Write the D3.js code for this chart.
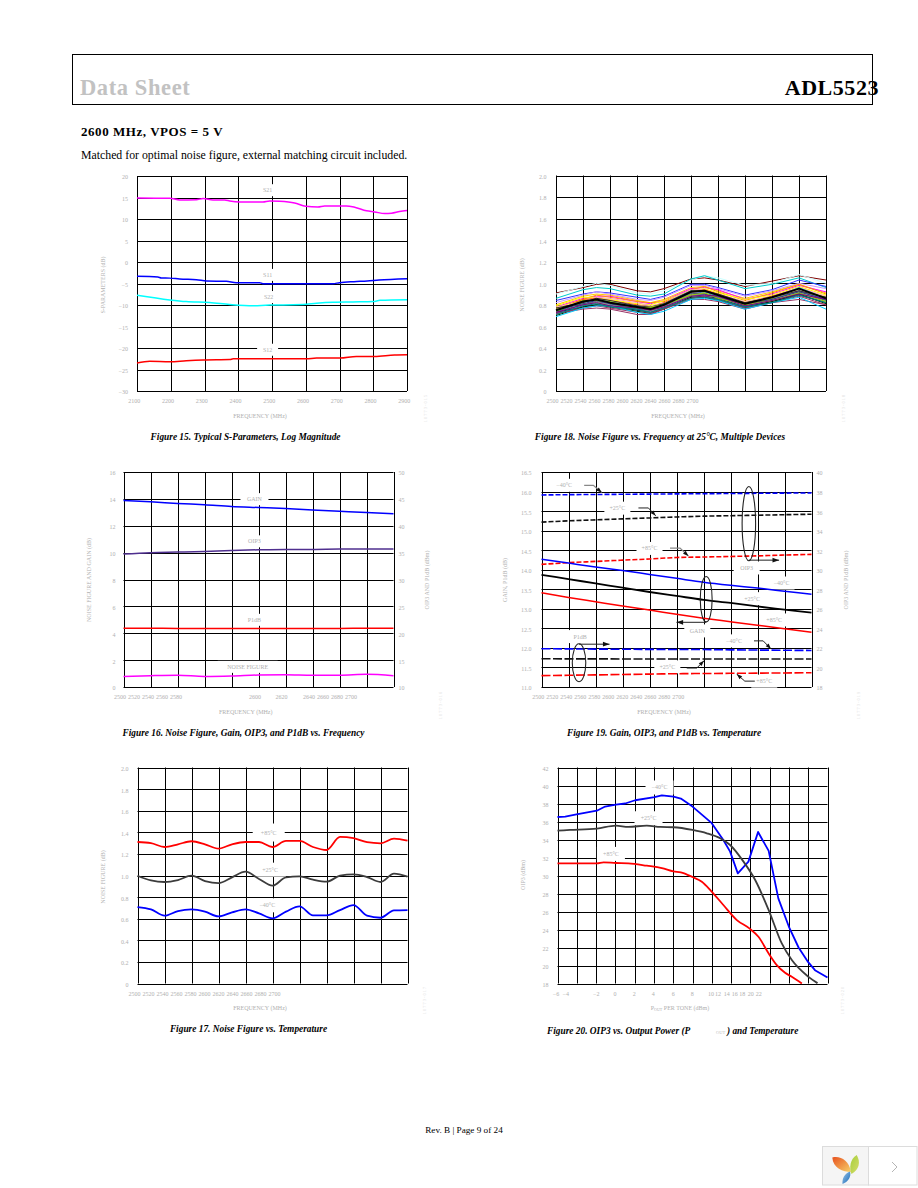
<!DOCTYPE html>
<html><head><meta charset="utf-8">
<style>html,body{margin:0;padding:0;background:#fff}svg{display:block}</style>
<script src="https://cdnjs.cloudflare.com/ajax/libs/d3/7.8.5/d3.min.js"></script>
</head><body><svg id="page" width="918" height="1188"></svg>
<script>
// ---- Figure 15 data ----
const s21F=[2100,2197,2226,2276,2296,2325,2360,2375,2404,2473,2493,2523,2567,2600,2636,2656,2720,2745,2780,2804,2834,2854,2878,2900];
const s21V=[14.9,14.82,14.44,14.5,14.75,14.44,14.44,14.2,13.97,13.97,14.2,14.13,13.74,12.97,12.8,13.04,13.04,12.74,11.9,11.65,11.27,11.34,11.73,11.96];
const s11F=[2100,2162,2172,2197,2226,2276,2306,2365,2394,2463,2473,2680,2700,2743,2782,2817,2900];
const s11V=[-3.34,-3.49,-3.73,-3.75,-3.96,-4.1,-4.42,-4.5,-4.81,-4.81,-5.04,-5.04,-4.81,-4.57,-4.42,-4.2,-3.88];
const s22F=[2100,2197,2246,2315,2375,2444,2493,2533,2592,2632,2681,2740,2800,2820,2900];
const s22V=[-7.74,-8.82,-9.21,-9.44,-9.9,-10.2,-9.98,-9.98,-9.9,-9.6,-9.37,-9.29,-9.2,-8.9,-8.75];
const s12F=[2100,2138,2197,2246,2296,2375,2385,2602,2632,2701,2750,2804,2863,2900];
const s12V=[-23.5,-23.1,-23.2,-22.97,-22.8,-22.7,-22.5,-22.5,-22.35,-22.35,-21.96,-21.96,-21.6,-21.55];

// ---- Figure 18 data: noise figure of many devices ----
const devF=[2500,2520,2530,2540,2560,2570,2580,2600,2610,2620,2640,2660,2680,2700];
const devices=[
[.91,.96,.99,.99,.93,.92,.95,1.04,1.05,1.03,.97,1.02,1.07,1.03],
[.90,.97,1.0,.98,.91,.90,.93,1.03,1.07,1.05,.98,1.0,1.08,1.0],
[.86,.94,.96,.95,.89,.88,.90,1.04,1.07,1.03,.95,.99,1.05,.96],
[.84,.90,.92,.91,.87,.85,.88,.99,.99,.96,.89,.94,1.03,.97],
[.82,.89,.92,.90,.85,.84,.87,.98,.98,.95,.88,.93,1.0,.95],
[.80,.88,.90,.89,.84,.82,.85,.96,.97,.93,.86,.92,.99,.91],
[.78,.86,.88,.88,.83,.81,.84,.95,.96,.94,.85,.90,.98,.92],
[.77,.85,.89,.87,.83,.82,.83,.94,.97,.92,.84,.91,.99,.90],
[.79,.87,.87,.85,.81,.80,.84,.93,.95,.91,.85,.89,.97,.89],
[.76,.84,.87,.86,.82,.79,.82,.94,.94,.90,.83,.88,.96,.88],
[.75,.85,.86,.84,.80,.78,.82,.92,.94,.90,.82,.88,.95,.87],
[.78,.83,.85,.83,.79,.79,.81,.91,.93,.89,.83,.87,.94,.88],
[.74,.82,.85,.83,.78,.77,.81,.93,.92,.88,.80,.86,.96,.86],
[.73,.83,.84,.82,.79,.76,.80,.90,.92,.89,.81,.85,.93,.85],
[.76,.81,.83,.80,.77,.77,.79,.90,.91,.87,.80,.86,.92,.87],
[.72,.80,.83,.81,.76,.75,.79,.89,.90,.87,.79,.85,.93,.84],
[.74,.80,.81,.80,.76,.74,.78,.88,.90,.86,.78,.84,.91,.84],
[.71,.79,.82,.80,.75,.74,.78,.89,.89,.85,.79,.83,.90,.83],
[.73,.78,.80,.79,.75,.73,.77,.87,.88,.86,.78,.83,.89,.82],
[.70,.78,.80,.78,.74,.72,.76,.87,.87,.84,.77,.83,.90,.81],
[.72,.77,.79,.77,.73,.72,.77,.86,.88,.85,.77,.82,.88,.80],
[.72,.76,.77,.76,.71,.71,.76,.85,.85,.83,.76,.82,.85,.80],
[.69,.77,.79,.79,.73,.71,.74,.85,.86,.84,.76,.82,.87,.76],
[.75,.81,.84,.81,.78,.75,.80,.91,.90,.88,.80,.85,.92,.85],
[.77,.82,.86,.84,.79,.78,.81,.93,.93,.90,.82,.87,.93,.87],
[.74,.84,.84,.83,.77,.78,.80,.89,.91,.86,.80,.84,.91,.83],
[.73,.80,.82,.79,.77,.75,.78,.88,.89,.88,.79,.84,.90,.85],
[.71,.79,.81,.78,.76,.73,.77,.86,.87,.85,.78,.82,.89,.82],
[.75,.83,.85,.82,.78,.76,.80,.92,.93,.89,.81,.87,.95,.86]
];
const deviceColors=['#800000','#ccffff','#00cccc','#3333ff','#cc99ff','#ffcc00','#ff00ff','#ff9900','#ffff00','#ff99cc','#ff6600','#ffcc99','#33cccc','#3366ff','#99cc00','#666699','#339966','#969696','#003366','#003300','#993366','#993366','#00ccff','#333399','#333333','#99cc00','#800080','#008080','#000000'];

// ---- Figure 16 data ----
const freq=[2500,2520,2540,2560,2580,2600,2620,2640,2660,2680,2700];
const gainV=[13.87,13.78,13.66,13.56,13.44,13.36,13.28,13.18,13.08,12.98,12.9];
const oip3V=[34.73,34.98,35.1,35.23,35.41,35.53,35.6,35.6,35.66,35.66,35.66];
const p1dbV=[20.95,20.94,20.9,20.9,20.9,20.88,20.9,20.9,20.9,20.94,20.94];
const nfV=[.79,.84,.87,.79,.82,.89,.91,.87,.87,.94,.84];

// ---- Figure 19 data ----
const oip3M40=[37.65,37.68,37.7,37.72,37.74,37.76,37.78,37.8,37.82,37.84,37.86];
const oip3P25=[34.87,35.0,35.1,35.2,35.3,35.4,35.48,35.53,35.58,35.63,35.68];
const oip3P85=[30.55,30.72,30.85,30.98,31.1,31.25,31.3,31.36,31.42,31.5,31.57];
const gainM40=[14.27,14.17,14.07,13.98,13.88,13.78,13.68,13.6,13.53,13.45,13.37];
const gainP25=[13.87,13.76,13.65,13.54,13.43,13.33,13.23,13.15,13.06,12.98,12.9];
const gainP85=[13.41,13.29,13.18,13.07,12.97,12.86,12.76,12.67,12.58,12.49,12.4];
const p1dbM40=[21.91,21.9,21.88,21.86,21.85,21.84,21.83,21.8,21.78,21.76,21.74];
const p1dbP25=[20.89,20.88,20.88,20.87,20.87,20.87,20.86,20.86,20.86,20.86,20.86];
const p1dbP85=[19.16,19.2,19.24,19.28,19.32,19.36,19.38,19.4,19.42,19.44,19.46];

// ---- Figure 17 data ----
const nfF=[2500,2510,2520,2530,2540,2550,2560,2570,2580,2590,2600,2610,2620,2630,2640,2650,2660,2670,2680,2690,2700];
const nfP85=[1.31,1.30,1.264,1.289,1.317,1.289,1.249,1.289,1.31,1.31,1.264,1.32,1.32,1.264,1.236,1.357,1.345,1.308,1.298,1.342,1.323];
const nfP25=[.998,.955,.94,.958,.998,.949,.93,.983,1.035,.968,.906,.983,.992,.961,.943,.998,1.011,.986,.94,1.017,.989];
const nfM40=[.708,.686,.628,.671,.686,.665,.621,.658,.686,.649,.603,.665,.714,.631,.631,.68,.726,.628,.609,.677,.68];

// ---- Figure 20 data ----
const pM40=[-6,-5.2,-4.03,-1.92,-1.06,.05,1.02,2.05,4.06,4.82,6.03,6.79,8,9.94,11.2,11.9,12.7,13.8,14.8,15.9,16.9,18,19,20,20.7,22];
const oM40=[36.5,36.55,36.8,37.2,37.66,37.88,38,38.36,38.7,38.9,38.77,38.55,37.66,35.88,33.95,32.65,30.24,31.54,34.84,32.73,27.46,24.3,22,20.37,19.48,18.67];
const pP25=[-6,-4.69,-1.92,.05,1.36,3.26,4.65,6.03,8,9.49,10.87,11.9,13.29,14.5,15.9,17.26,18.3,20.03,20.96];
const oP25=[34.99,35.06,35.21,35.54,35.4,35.54,35.4,35.36,35.06,34.69,34.13,33.39,31.54,29.5,26.16,22.45,20.6,18.74,18.04];
const pP85=[-6,-1.92,-1.23,.05,1.36,3.26,4.82,6.03,6.79,8,8.97,9.94,11.2,12.6,13.9,14.84,15.9,16.74,17.6,18.3,19.34];
const oP85=[31.35,31.35,31.46,31.39,31.35,31.09,30.83,30.46,30.35,29.83,29.31,28.27,26.72,25.05,24.12,23.19,21.34,20.04,19.19,18.74,18];

// ---- tick labels ----
const freqTicks=[2500,2520,2540,2560,2580,2600,2620,2640,2660,2680,2700];
const sTicks=[2100,2200,2300,2400,2500,2600,2700,2800,2900];
const powerTicks=[-6,-4,-2,0,2,4,6,8,10,12,14,16,18,20,22];
const nfTicks=[0,.2,.4,.6,.8,1,1.2,1.4,1.6,1.8,2];

// ---- page ----
const svg=d3.select('#page');
const SERIF='"Liberation Serif","Times New Roman",serif';
const GREY='#b0b0b0';
const text=(x,y,s,o={})=>svg.append('text').attr('x',x).attr('y',y).text(s)
  .attr('font-family',SERIF).attr('font-size',o.size||12).attr('font-weight',o.weight||'normal')
  .attr('letter-spacing',o.ls||null)
  .attr('font-style',o.style||'normal').attr('fill',o.fill||'#000').attr('text-anchor',o.anchor||'start');

svg.append('rect').attr('x',72.5).attr('y',54.5).attr('width',800).attr('height',50).attr('fill','none').attr('stroke','#000');
text(80,95,'Data Sheet',{size:22.5,weight:'bold',fill:'#c2c2c2',ls:.6});
text(879,95,'ADL5523',{size:22,weight:'bold',anchor:'end',ls:.55});
text(81,136,'2600 MHz, VPOS = 5 V',{size:13,weight:'bold',ls:.55});
text(81,159,'Matched for optimal noise figure, external matching circuit included.',{size:11.8});
text(464,1133,'Rev. B | Page 9 of 24',{size:9.2,anchor:'middle'});

const caption=(x,y,s,a='middle')=>text(x,y,s,{size:9.35,weight:'bold',style:'italic',anchor:a});
caption(245.5,440,'Figure 15. Typical S-Parameters, Log Magnitude');
caption(660,440,'Figure 18. Noise Figure vs. Frequency at 25°C, Multiple Devices');
caption(243.5,736,'Figure 16. Noise Figure, Gain, OIP3, and P1dB vs. Frequency');
caption(664,736,'Figure 19. Gain, OIP3, and P1dB vs. Temperature');
caption(248.5,1032,'Figure 17. Noise Figure vs. Temperature');
caption(547,1034,'Figure 20. OIP3 vs. Output Power (P','start');
text(716,1034,'OUT',{size:4.5,fill:'#c4c4c4'});
caption(727,1034,') and Temperature','start');

function panel(c){
  const [x0,x1,y0,y1]=c.box;
  const g=svg.append('g');
  const gx=d3.scaleLinear([0,c.xDiv],[x0,x1]), gy=d3.scaleLinear([0,c.yDiv],[y0,y1]);
  // grid
  g.append('g').selectAll('line').data(d3.range(c.xDiv+1)).join('line')
    .attr('x1',d=>Math.round(gx(d))+.5).attr('x2',d=>Math.round(gx(d))+.5).attr('y1',y0).attr('y2',y1);
  g.append('g').selectAll('line').data(d3.range(c.yDiv+1)).join('line')
    .attr('y1',d=>Math.round(gy(d))+.5).attr('y2',d=>Math.round(gy(d))+.5).attr('x1',x0).attr('x2',x1);
  g.selectAll('line').attr('stroke','#000').attr('stroke-width',1);
  // label boxes
  (c.labels||[]).forEach(l=>{
    const w=l.w||c.boxW||24,h=l.h||c.boxH||10;
    g.append('rect').attr('x',gx(l.gx)-w/2).attr('y',gy(l.gy)-h/2).attr('width',w).attr('height',h).attr('fill','#fff');
  });
  // axes
  const style=a=>{a.select('.domain').remove();a.selectAll('text').attr('font-family',SERIF).attr('font-size',6).attr('fill',GREY);};
  svg.append('g').attr('transform',`translate(0,${y1+8})`)
    .call(d3.axisBottom(c.tickX).tickValues(c.xTicks).tickSize(0).tickPadding(0).tickFormat(d3.format('d'))).call(style);
  svg.append('g').attr('transform',`translate(${x0-c.leftGap},1)`)
    .call(d3.axisLeft(c.y).tickValues(c.yTicks).tickSize(0).tickPadding(0).tickFormat(c.yFmt)).call(style);
  if(c.y2) svg.append('g').attr('transform',`translate(${x1+5},1)`)
    .call(d3.axisRight(c.y2).tickValues(c.y2Ticks).tickSize(0).tickPadding(0).tickFormat(d3.format('d'))).call(style);
  // series
  const defaultLine=(c.curve||d3.curveMonotoneX);
  c.series.forEach(s=>{
    const yS=s.axis===2?c.y2:c.y;
    const line=d3.line().x((d,i)=>c.x(s.xs[i])).y(d=>yS(d)).curve(s.curve||defaultLine);
    g.append('path').attr('d',line(s.ys)).attr('fill','none').attr('stroke',s.color)
      .attr('stroke-width',s.w||c.lw||1.5).attr('stroke-dasharray',s.dash||null).attr('stroke-linejoin','round');
  });
  // annotations
  (c.labels||[]).forEach(l=>{
    g.append('text').attr('x',gx(l.gx)).attr('y',gy(l.gy)+2).attr('text-anchor','middle').text(l.t)
      .attr('font-family',SERIF).attr('font-size',6).attr('fill',GREY);
  });
  (c.ellipses||[]).forEach(e=>{
    g.append('ellipse').attr('cx',gx(e[0])).attr('cy',gy(e[1]))
      .attr('rx',gx(e[2])-gx(0)).attr('ry',gy(e[3])-gy(0)).attr('fill','none').attr('stroke','#222').attr('stroke-width',1.1);
  });
  (c.leaders||[]).forEach(p=>{
    const line=d3.line().x(d=>gx(d[0])).y(d=>gy(d[1]));
    const pts=p.pts;
    g.append('path').attr('d',line(pts)).attr('fill','none').attr('stroke',p.color||'#222').attr('stroke-width',p.w||1);
    const a=pts[pts.length-1],b=pts[pts.length-2];
    const ang=Math.atan2(gy(a[1])-gy(b[1]),gx(a[0])-gx(b[0]))*180/Math.PI;
    const s=p.head||4;
    g.append('path').attr('d',`M0,0L${-2.2*s},${-s*.8}L${-2.2*s},${s*.8}Z`).attr('fill','#111')
      .attr('transform',`translate(${gx(a[0])},${gy(a[1])}) rotate(${ang})`);
  });
  // titles
  const tt=(x,y,s,r)=>{const t=svg.append('text').attr('transform',`translate(${x},${y})${r?' rotate(-90)':''}`)
      .attr('text-anchor','middle').attr('font-family',SERIF).attr('font-size',6).attr('fill',GREY);
      if(typeof s==='string')t.text(s); else s(t); return t;};
  tt(c.xTitle[0],c.xTitle[1],c.xTitle[2]);
  tt(c.yTitle[0],c.yTitle[1],c.yTitle[2],true);
  if(c.y2Title) tt(c.y2Title[0],c.y2Title[1],c.y2Title[2],true);
  svg.append('text').attr('transform',`translate(${c.code[0]},${c.code[1]}) rotate(-90)`).attr('text-anchor','middle')
    .attr('font-family',SERIF).attr('font-size',4.5).attr('letter-spacing',1).attr('fill','#dcdcdc').text(c.code[2]);
}
const fmt1=d=>d===0?'0':d.toFixed(1);
const fmtD=d3.format('d');
const fmtF=d=>d.toFixed(1);
const BLUE='#0000ff',RED='#ff0000',CY='#00ffff',MG='#ff00ff',DK='#3c3c3c';

// Figure 15
panel({box:[137,407,176,391],xDiv:8,yDiv:10,
  x:d3.scaleLinear([2100,2900],[137,407]),y:d3.scaleLinear([-30,20],[391,176]),
  tickX:d3.scaleLinear([2100,2900],[133.7,403.7]),xTicks:sTicks,yTicks:d3.range(-30,21,5),yFmt:fmtD,leftGap:9,lw:1.5,
  boxW:18,boxH:12,
  labels:[{gx:3.87,gy:.66,t:'S21'},{gx:3.87,gy:4.6,t:'S11'},{gx:3.9,gy:5.63,t:'S22'},{gx:3.87,gy:8.08,t:'S12',w:21}],
  series:[{xs:s21F,ys:s21V,color:MG},{xs:s11F,ys:s11V,color:BLUE},{xs:s22F,ys:s22V,color:CY},{xs:s12F,ys:s12V,color:RED}],
  xTitle:[260,417.5,'FREQUENCY (MHz)'],yTitle:[105,285,'S-PARAMETERS (dB)'],code:[427,408,'10773-015']});

// Figure 18
panel({box:[556,826,175.5,391],xDiv:10,yDiv:10,
  x:d3.scaleLinear([2500,2700],[556,826]),y:d3.scaleLinear([0,2],[391,175.5]),
  tickX:d3.scaleLinear([2500,2700],[552,692]),xTicks:freqTicks,yTicks:nfTicks,yFmt:fmt1,leftGap:9.5,
  series:devices.map((d,i)=>({xs:devF,ys:d,color:deviceColors[i%deviceColors.length],w:i===devices.length-1?2:1,curve:d3.curveLinear})),
  xTitle:[678,417.5,'FREQUENCY (MHz)'],yTitle:[524,285,'NOISE FIGURE (dB)'],code:[845,408,'10773-018']});

// Figure 16
panel({box:[123.5,393.5,472,687],xDiv:10,yDiv:8,
  x:d3.scaleLinear([2500,2700],[123.5,393.5]),y:d3.scaleLinear([0,16],[687,472]),
  y2:d3.scaleLinear([10,50],[687,472]),y2Ticks:d3.range(10,51,5),
  tickX:d3.scaleLinear([2500,2580,2600,2620,2640,2700],[119.5,175.5,254.5,281,308.5,350.5]),xTicks:freqTicks,yTicks:d3.range(0,17,2),yFmt:fmtD,leftGap:8,lw:1.5,
  boxW:30,boxH:12,
  labels:[{gx:4.85,gy:1.01,t:'GAIN',w:28},{gx:4.85,gy:2.58,t:'OIP3',w:24},{gx:4.85,gy:5.5,t:'P1dB',w:24},{gx:4.6,gy:7.25,t:'NOISE FIGURE',w:60,h:12}],
  series:[{xs:freq,ys:gainV,color:BLUE},{xs:freq,ys:oip3V,color:'#4f2f8f',axis:2},{xs:freq,ys:p1dbV,color:RED,axis:2},{xs:freq,ys:nfV,color:MG}],
  xTitle:[245.7,714,'FREQUENCY (MHz)'],yTitle:[91,580,'NOISE FIGURE AND GAIN (dB)'],y2Title:[429,580,'OIP3 AND P1dB (dBm)'],code:[442,705,'10773-016']});

// Figure 19
panel({box:[541.5,811.5,472,687],xDiv:10,yDiv:11,
  x:d3.scaleLinear([2500,2700],[541.5,811.5]),y:d3.scaleLinear([11,16.5],[687,472]),
  y2:d3.scaleLinear([18,40],[687,472]),y2Ticks:d3.range(18,41,2),
  tickX:d3.scaleLinear([2500,2700],[537.7,677.7]),xTicks:freqTicks,yTicks:d3.range(11,16.6,.5),yFmt:fmtF,leftGap:10,lw:1.5,
  boxW:26,boxH:13,
  labels:[{gx:.84,gy:.68,t:'−40°C'},{gx:2.81,gy:1.85,t:'+25°C'},{gx:4.0,gy:3.91,t:'+85°C'},{gx:7.6,gy:4.91,t:'OIP3'},
    {gx:8.89,gy:5.68,t:'−40°C'},{gx:7.8,gy:6.48,t:'+25°C'},{gx:8.62,gy:7.57,t:'+85°C'},{gx:5.77,gy:8.13,t:'GAIN'},
    {gx:7.13,gy:8.64,t:'−40°C'},{gx:1.43,gy:8.42,t:'P1dB'},{gx:4.66,gy:9.97,t:'+25°C'},{gx:8.25,gy:10.7,t:'+85°C'}],
  series:[
    {xs:freq,ys:oip3M40,color:BLUE,axis:2,dash:'5 2',w:1.6},{xs:freq,ys:oip3P25,color:'#111',axis:2,dash:'5 2',w:1.6},{xs:freq,ys:oip3P85,color:RED,axis:2,dash:'5 2',w:1.6},
    {xs:freq,ys:gainM40,color:BLUE},{xs:freq,ys:gainP25,color:'#000',w:1.8},{xs:freq,ys:gainP85,color:RED},
    {xs:freq,ys:p1dbM40,color:BLUE,axis:2,dash:'9 2.5',w:1.6},{xs:freq,ys:p1dbP25,color:'#111',axis:2,dash:'9 2.5',w:1.6},{xs:freq,ys:p1dbP85,color:RED,axis:2,dash:'9 2.5',w:1.6}],
  ellipses:[[7.68,2.64,.25,1.9],[6.1,6.51,.22,1.16],[1.39,9.76,.25,.97]],
  leaders:[
    {pts:[[1.58,.68],[1.92,.68],[2.23,1.05]],color:'#888',w:1.2,head:2.5},
    {pts:[[3.59,1.84],[3.96,1.84],[4.23,2.24]],head:2.5},
    {pts:[[4.76,3.89],[5.13,3.89],[5.44,4.3]],color:'#888',w:1.2,head:2.5},
    {pts:[[7.68,4.51],[8.8,4.51]],head:3},
    {pts:[[6.1,7.69],[5.0,7.69]],head:3},
    {pts:[[1.39,8.81],[2.52,8.81]],head:3},
    {pts:[[7.87,8.64],[8.21,8.64],[8.5,9.05]],head:2.5},
    {pts:[[5.38,10.03],[5.75,10.03],[6.02,9.66]],head:2.5},
    {pts:[[7.9,10.7],[7.53,10.7],[7.23,10.34]],head:2.5}],
  xTitle:[664,714,'FREQUENCY (MHz)'],yTitle:[507,580,'GAIN, P1dB (dB)'],y2Title:[848,580,'OIP3 AND P1dB (dBm)'],code:[860,705,'10773-019']});

// Figure 17
panel({box:[137.5,407.5,767.5,983.5],xDiv:10,yDiv:10,
  x:d3.scaleLinear([2500,2700],[137.5,407.5]),y:d3.scaleLinear([0,2],[983.5,767.5]),
  tickX:d3.scaleLinear([2500,2700],[134,274]),xTicks:freqTicks,yTicks:nfTicks,yFmt:fmt1,leftGap:9,lw:1.8,
  boxW:32,boxH:18,
  labels:[{gx:4.86,gy:3.01,t:'+85°C'},{gx:4.91,gy:4.73,t:'+25°C',h:14},{gx:4.81,gy:6.38,t:'−40°C',h:14}],
  series:[{xs:nfF,ys:nfP85,color:RED},{xs:nfF,ys:nfP25,color:DK},{xs:nfF,ys:nfM40,color:BLUE}],
  xTitle:[260,1010,'FREQUENCY (MHz)'],yTitle:[105,877,'NOISE FIGURE (dB)'],code:[426,1000,'10773-017']});

// Figure 20
panel({box:[557.5,827.5,767.5,983.5],xDiv:14,yDiv:12,
  x:d3.scaleLinear([-6,22],[557.5,827.5]),y:d3.scaleLinear([18,42],[983.5,767.5]),
  tickX:d3.scaleLinear([-6,-4,-2,0,2,4,6,8,10,12,14,16,18,20,22],[555.5,565.2,595.8,614.5,633.8,652.8,672.8,691.8,710.5,717.5,726.2,734.2,741.8,750.2,758.2]),
  xTicks:powerTicks,yTicks:d3.range(18,43,2),yFmt:fmtD,leftGap:9,lw:1.8,
  boxW:28,boxH:14,
  labels:[{gx:5.29,gy:1.11,t:'−40°C'},{gx:4.72,gy:2.82,t:'+25°C'},{gx:2.77,gy:4.8,t:'+85°C'}],
  series:[{xs:pM40,ys:oM40,color:BLUE,curve:d3.curveLinear},{xs:pP25,ys:oP25,color:DK},{xs:pP85,ys:oP85,color:RED}],
  xTitle:[680,1010,t=>{t.append('tspan').text('P');t.append('tspan').attr('font-size',4).attr('dy',1).text('OUT');t.append('tspan').attr('dy',-1).text(' PER TONE (dBm)');}],
  yTitle:[525,875,'OIP3 (dBm)'],code:[844,1000,'10773-020']});

// ---- viewer widget at the bottom right ----
const defs=svg.append('defs');
const grad=(id,a,b)=>{const g=defs.append('linearGradient').attr('id',id).attr('x1',0).attr('y1',0).attr('x2',1).attr('y2',1);
  g.append('stop').attr('offset',0).attr('stop-color',a);g.append('stop').attr('offset',1).attr('stop-color',b);};
grad('pOrange','#e8521f','#f7d26a');grad('pGreen','#a6cf3a','#d5dc6a');grad('pBlue','#9cc6e8','#1769b8');
const w=svg.append('g');
w.append('rect').attr('x',822.5).attr('y',1146.5).attr('width',46).attr('height',38.5).attr('fill','#f5f5f5').attr('stroke','#dcdcdc');
w.append('rect').attr('x',868.5).attr('y',1146.5).attr('width',48.5).attr('height',38.5).attr('fill','#fff').attr('stroke','#dcdcdc');
w.append('path').attr('d','M832.3,1157.5C840,1155.5 849,1160 851,1172C843,1172 833,1168 832.3,1157.5Z').attr('fill','url(#pOrange)');
w.append('path').attr('d','M856.7,1155C861,1162 859,1170 851.5,1174C849,1168 850,1159 856.7,1155Z').attr('fill','url(#pGreen)');
w.append('path').attr('d','M850,1171.5C851.5,1177 848,1182 842.5,1184C842,1179 844,1174 850,1171.5Z').attr('fill','url(#pBlue)');
w.append('path').attr('d','M892,1162L897,1167L892,1172').attr('fill','none').attr('stroke','#b5b5b5').attr('stroke-width',1);
</script></body></html>
